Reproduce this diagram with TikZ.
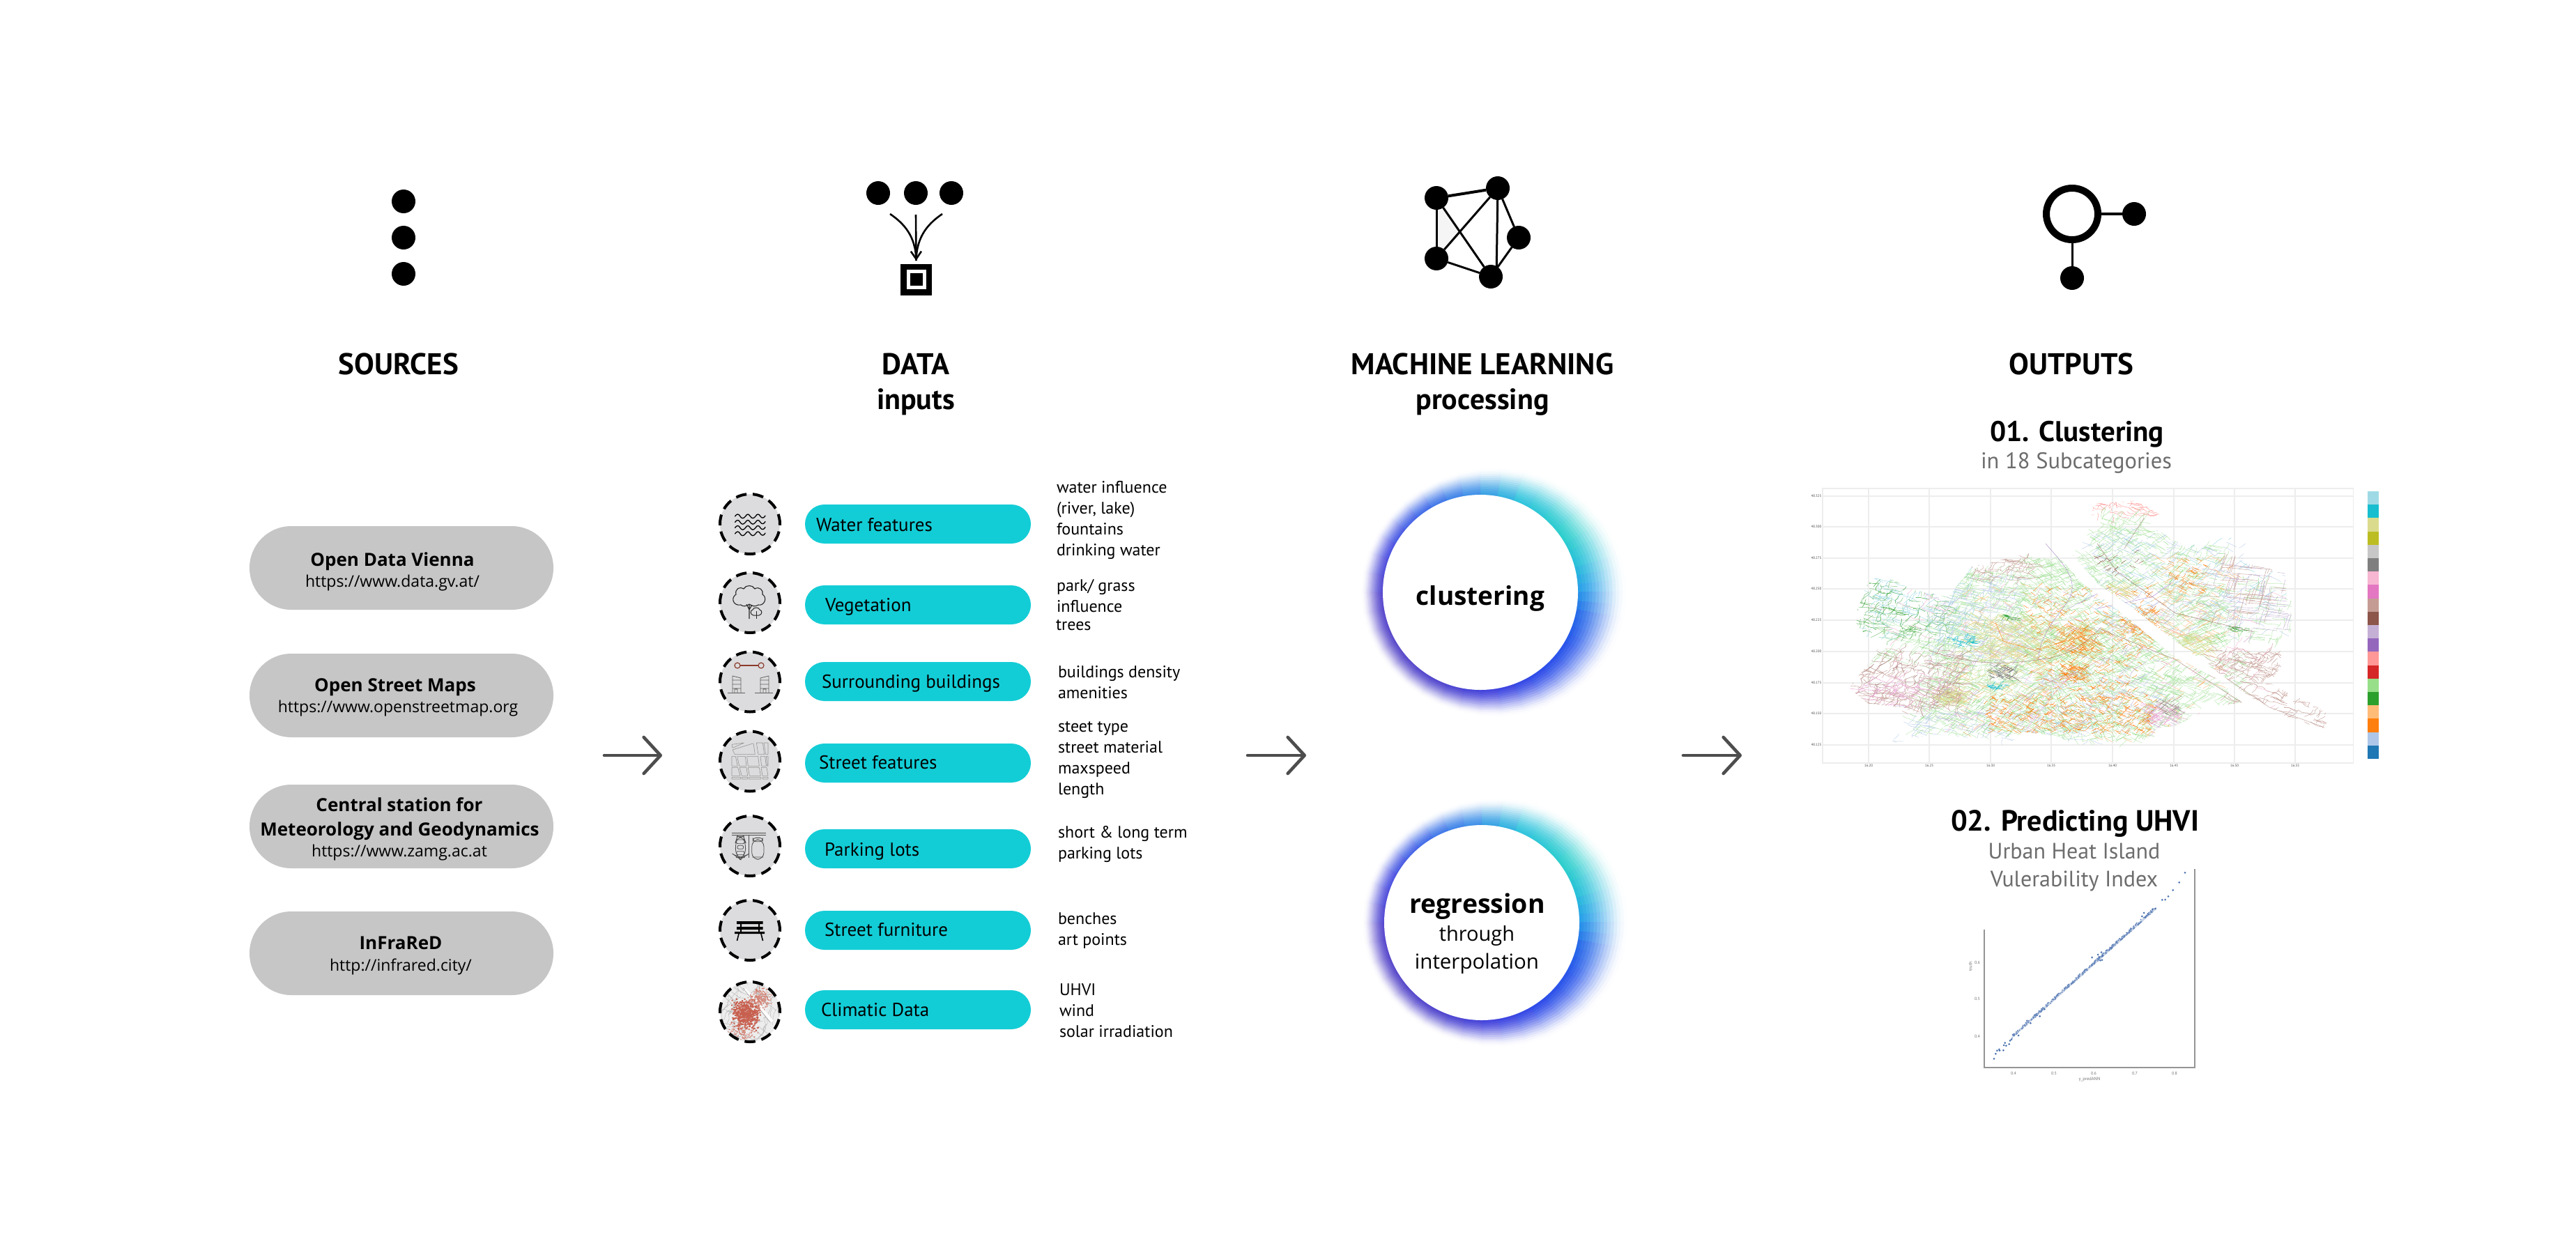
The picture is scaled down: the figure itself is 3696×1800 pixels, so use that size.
\documentclass[tikz,border=0pt]{standalone}
\usepackage{fontspec}
\setmainfont{PT Sans}
\newfontfamily\segoe{Open Sans}
\usetikzlibrary{arrows.meta}
\newcommand\fs[1]{\fontsize{#1}{#1}\selectfont}
\definecolor{graypill}{HTML}{C6C6C6}
\definecolor{teal}{HTML}{13CDD6}
\definecolor{iconbg}{HTML}{DCDCDE}
\definecolor{subgray}{HTML}{6D6D6D}
\definecolor{arrowgray}{HTML}{4D4D4D}
\definecolor{g0}{HTML}{259FE8}\definecolor{g1}{HTML}{24BFD8}\definecolor{g2}{HTML}{28CDCC}
\definecolor{g3}{HTML}{2CC3DC}\definecolor{g4}{HTML}{3D8FE8}\definecolor{g5}{HTML}{3F6AE8}
\definecolor{g6}{HTML}{4A4FE0}\definecolor{g7}{HTML}{5545CC}\definecolor{g8}{HTML}{5545C8}
\definecolor{g9}{HTML}{4D42CC}\definecolor{g10}{HTML}{3F3FDC}\definecolor{g11}{HTML}{2A48E8}
\definecolor{g12}{HTML}{2356EA}\definecolor{g13}{HTML}{2468E8}
\definecolor{t1}{HTML}{9EDAE5}\definecolor{t2}{HTML}{17BECF}\definecolor{t3}{HTML}{DBDB8D}\definecolor{t4}{HTML}{BCBD22}
\definecolor{t5}{HTML}{C7C7C7}\definecolor{t6}{HTML}{7F7F7F}\definecolor{t7}{HTML}{F7B6D2}\definecolor{t8}{HTML}{E377C2}
\definecolor{t9}{HTML}{C49C94}\definecolor{t10}{HTML}{8C564B}\definecolor{t11}{HTML}{C5B0D5}\definecolor{t12}{HTML}{9467BD}
\definecolor{t13}{HTML}{FF9896}\definecolor{t14}{HTML}{D62728}\definecolor{t15}{HTML}{98DF8A}\definecolor{t16}{HTML}{2CA02C}
\definecolor{t17}{HTML}{FFBB78}\definecolor{t18}{HTML}{FF7F0E}\definecolor{t19}{HTML}{AEC7E8}\definecolor{t20}{HTML}{1F77B4}
\definecolor{redmap}{HTML}{C8604F}
\definecolor{brick}{HTML}{8B3A2A}
\definecolor{scat}{HTML}{4C72B0}
\tikzset{
 lbl/.style={inner sep=0pt,outer sep=0pt,text=black},
 dot/.style={circle,fill=black,minimum size=34pt,inner sep=0pt,outer sep=0pt},
 graybox/.style={rectangle,fill=graypill,minimum width=436pt,minimum height=120pt,rounded corners=59.9pt,inner sep=0pt,outer sep=0pt},
 tealbox/.style={rectangle,fill=teal,minimum width=324pt,minimum height=56pt,rounded corners=27.9pt,inner sep=0pt,outer sep=0pt},
 iconcirc/.style={circle,minimum size=86pt,inner sep=0pt,outer sep=0pt,fill=iconbg,draw=black,line width=4pt,dash pattern=on 15.5pt off 9pt,dash phase=1.1pt},
 bigarrow/.style={draw=arrowgray,line width=4.6pt,line cap=round,line join=round,-{Straight Barb[length=24pt,width=52pt,round]}},
 netline/.style={line width=3pt,draw=black},
 whitedisc/.style={circle,fill=white,minimum size=280pt,inner sep=0pt,outer sep=0pt},
 mapline/.style={line width=.42pt,line join=round},
 gridl/.style={draw=black!7,line width=1.4pt},
 icongray/.style={draw=black!62,line width=.8pt,line join=round},
 streetblock/.style={draw=black!42,line width=.6pt,rounded corners=.5pt},
 spine/.style={draw=black!42,line width=1.4pt},
}
\newcommand\mylab[6]{\node[lbl,anchor=#2,font=#5] (#1) at (#3,#4) {#6};}
\newcommand\walks[9]{%
 \pgfmathtruncatemacro\nb{(#1)/3+1}%
 \foreach \i in {1,...,\nb}{%
  \pgfmathsetmacro\wa{#8+90*int(rnd*4)}%
  \draw[mapline,#2] foreach \j in {1,2,3} { ({#3+rnd*#5},{#4+rnd*#6}) -- ++({\wa+(rnd-.5)*#9}:#7) -- ++({\wa+(rnd-.5)*#9}:#7) -- ++({\wa+(rnd-.5)*#9}:#7) };
 }}
\newcommand\speckle[7]{% batches, colour, cx, cy, rx, ry, size
 \foreach \i in {1,...,#1}{%
  \fill[#2] foreach \j in {1,...,20} { ({#3+#5*(rnd+rnd-1)},{#4+#6*(rnd+rnd-1)}) rectangle ++(#7,#7) };
 }}
\newcommand\glowring[2]{%
 \begin{scope}[shift={(#1,#2)}]
 \foreach \q/\I in {1.0/1,.93/4,.86/9,.79/16,.72/25,.65/33,.58/43,.51/52,.44/61,.37/70,.3/78,.23/85,.16/91,.09/96,.04/98}{%
  \foreach \Aa/\Ab/\Ca/\Cb in {0/15/g0/g1,15/30/g1/g2,30/60/g2/g3,60/90/g3/g4,90/120/g4/g5,120/150/g5/g6,150/180/g6/g7,180/210/g7/g8,210/240/g8/g9,240/270/g9/g10,270/300/g10/g11,300/330/g11/g12,330/345/g12/g13,345/360/g13/g0}{%
   \foreach \s in {0,.3333,.6667}{%
    \pgfmathsetmacro\tA{\Aa+\s*(\Ab-\Aa)}%
    \pgfmathsetmacro\tB{\tA+.3333*(\Ab-\Aa)+.3}%
    \pgfmathsetmacro\rA{140+\q*1.15*(37.75+16.5*cos(\tA)+5.75*cos(2*\tA))}%
    \pgfmathsetmacro\rB{140+\q*1.15*(37.75+16.5*cos(\tB)+5.75*cos(2*\tB))}%
    \pgfmathsetmacro\tt{\s*100}%
    \colorlet{gc}{\Cb!\tt!\Ca}%
    \fill[gc!\I!white] (0,0) -- (-\tA:\rA) -- (-\tB:\rB) -- cycle;
   }}}
 \end{scope}}
\begin{document}
\begin{tikzpicture}[x=1pt,y=-1pt]
\useasboundingbox (0,0) rectangle (3696,1800);
\fill[white] (0,0) rectangle (3696,1800);
\pgfmathsetseed{4242}
% ---------- top icons
\node[dot] (s1) at (579,289) {};
\node[dot] (s2) at (579,341) {};
\node[dot] (s3) at (579,393) {};
\node[dot] (d1) at (1260,277) {};
\node[dot] (d2) at (1314,277) {};
\node[dot] (d3) at (1365,277) {};
\coordinate (dl) at (1277,307);
\coordinate (dm) at (1314,308);
\coordinate (dr) at (1352,307);
\node[rectangle,fill=black,minimum size=45pt,inner sep=0pt,outer sep=0pt] (sqo) at (1314.5,401) {};
\node[rectangle,fill=white,minimum size=28pt,inner sep=0pt,outer sep=0pt] (sqm) at (1314.5,401) {};
\node[rectangle,fill=black,minimum size=18pt,inner sep=0pt,outer sep=0pt] (sqi) at (1314.5,401) {};
\coordinate (dt) at (1314.5,374);
\draw[line width=2.6pt] (dl) .. controls (1296,320) and (1314,338) .. (dt);
\draw[line width=2.6pt] (dr) .. controls (1333,320) and (1315,338) .. (dt);
\draw[line width=2.6pt,-{Straight Barb[length=11pt,width=15pt]}] (dm) -- (dt);
% network
\fill[black!4] (2061,284) -- (2095.6,337) -- (2061,371) -- cycle;
\node[dot] (na) at (2061,284) {};
\node[dot] (nb) at (2149,270) {};
\node[dot] (nc) at (2179,341) {};
\node[dot] (nd) at (2061,371) {};
\node[dot] (ne) at (2139,397) {};
\draw[netline,line width=4pt] (na) -- (nb);
\draw[netline] (na) -- (nd);
\draw[netline] (na) -- (ne);
\draw[netline] (nb) -- (nd);
\draw[netline] (nb.center) -- (2147,397);
\draw[netline] (nb) -- (nc);
\draw[netline] (nc) -- (ne);
\draw[netline] (nd) -- (ne);
% outputs icon
\node[circle,draw=black,line width=10pt,minimum size=74pt,inner sep=0pt,outer sep=0pt] (oo) at (2973,307) {};
\node[dot] (o1) at (3062,307) {};
\node[dot] (o2) at (2973,399) {};
\draw[line width=4.5pt] (oo) -- (o1);
\draw[line width=3pt] (oo) -- (o2);
% ---------- headings
\mylab{h1}{base}{572}{537}{\fs{43}\bfseries}{SOURCES}
\mylab{h2}{base}{1314}{537}{\fs{43}\bfseries}{DATA}
\mylab{h2b}{base}{1314}{587}{\fs{42}\bfseries}{inputs}
\mylab{h3}{base}{2127}{537}{\fs{43}\bfseries}{MACHINE LEARNING}
\mylab{h3b}{base}{2127}{587}{\fs{42}\bfseries}{processing}
\mylab{h4}{base}{2972}{537}{\fs{43}\bfseries}{OUTPUTS}
\mylab{o1t}{base}{2980}{633}{\fs{41}\bfseries}{01. Clustering}
\node[lbl,text=subgray,anchor=base,font=\fs{32.5}] (o1s) at (2979,672) {in 18 Subcategories};
\mylab{o2t}{base}{2977}{1192}{\fs{42}\bfseries}{02. Predicting UHVI}
\node[lbl,text=subgray,anchor=base,font=\fs{32}] (o2s) at (2976,1232) {Urban Heat Island};
\node[lbl,text=subgray,anchor=base,font=\fs{32}] (o2v) at (2976,1272) {Vulerability Index};
% ---------- sources
\node[graybox] (b1) at (576,815) {};
\node[graybox] (b2) at (576,998) {};
\node[graybox] (b3) at (576,1186) {};
\node[graybox] (b4) at (576,1368) {};
\mylab{b1a}{base}{563}{812}{\segoe\fs{26}\bfseries}{Open Data Vienna}
\mylab{b1b}{base}{563}{842}{\segoe\fs{23}}{https://www.data.gv.at/}
\mylab{b2a}{base}{567}{992}{\segoe\fs{26}\bfseries}{Open Street Maps}
\mylab{b2b}{base}{571}{1022}{\segoe\fs{23}}{https://www.openstreetmap.org}
\mylab{b3a}{base}{573}{1164}{\segoe\fs{26}\bfseries}{Central station for}
\mylab{b3c}{base}{573.5}{1199}{\segoe\fs{26}\bfseries}{Meteorology and Geodynamics}
\mylab{b3b}{base}{573}{1229}{\segoe\fs{23}}{https://www.zamg.ac.at}
\mylab{b4a}{base}{575}{1362}{\segoe\fs{26}\bfseries}{InFraReD}
\mylab{b4b}{base}{575}{1393}{\segoe\fs{23}}{http://infrared.city/}
% ---------- big arrows
\coordinate (a1s) at (867,1084); \coordinate (a1e) at (950,1084);
\coordinate (a2s) at (1790,1084); \coordinate (a2e) at (1874,1084);
\coordinate (a3s) at (2415,1084); \coordinate (a3e) at (2499,1084);
\draw[bigarrow] (a1s) -- (a1e);
\draw[bigarrow] (a2s) -- (a2e);
\draw[bigarrow] (a3s) -- (a3e);
% ---------- data pills
\foreach \n/\yy in {1/752,2/868,3/978,4/1095,5/1218,6/1335,7/1449}{\node[tealbox] (p\n) at (1317,\yy) {};}
\mylab{p1t}{base west}{1171}{762}{\fs{27}}{Water features}
\mylab{p2t}{base west}{1184}{877}{\fs{27}}{Vegetation}
\mylab{p3t}{base west}{1179}{987}{\fs{27}}{Surrounding buildings}
\mylab{p4t}{base west}{1175}{1103}{\fs{27}}{Street features}
\mylab{p5t}{base west}{1183}{1228}{\fs{27}}{Parking lots}
\mylab{p6t}{base west}{1183}{1343}{\fs{27}}{Street furniture}
\mylab{p7t}{base west}{1178}{1458}{\fs{27}}{Climatic Data}
% details
\mylab{q1}{base west}{1516}{707}{\fs{24}}{water influence}
\mylab{q2}{base west}{1516}{737}{\fs{24}}{(river, lake)}
\mylab{q3}{base west}{1516}{767}{\fs{24}}{fountains}
\mylab{q4}{base west}{1516}{797}{\fs{24}}{drinking water}
\mylab{q5}{base west}{1516}{848}{\fs{24}}{park/ grass}
\mylab{q6}{base west}{1516}{878}{\fs{24}}{influence}
\mylab{q7}{base west}{1515}{904}{\fs{24}}{trees}
\mylab{q8}{base west}{1518}{972}{\fs{24}}{buildings density}
\mylab{q9}{base west}{1518}{1002}{\fs{24}}{amenities}
\mylab{q10}{base west}{1518}{1050}{\fs{24}}{steet type}
\mylab{q11}{base west}{1518}{1080}{\fs{24}}{street material}
\mylab{q12}{base west}{1518}{1110}{\fs{24}}{maxspeed}
\mylab{q13}{base west}{1518}{1140}{\fs{24}}{length}
\mylab{q14}{base west}{1518}{1202}{\fs{24}}{short \& long term}
\mylab{q15}{base west}{1518}{1232}{\fs{24}}{parking lots}
\mylab{q16}{base west}{1518}{1326}{\fs{24}}{benches}
\mylab{q17}{base west}{1518}{1356}{\fs{24}}{art points}
\mylab{q18}{base west}{1520}{1428}{\fs{24}}{UHVI}
\mylab{q19}{base west}{1520}{1458}{\fs{24}}{wind}
\mylab{q20}{base west}{1520}{1488}{\fs{24}}{solar irradiation}
% ---------- icon circles
\node[iconcirc] (c1) at (1076,752) {};
\node[iconcirc] (c2) at (1076,865) {};
\node[iconcirc] (c3) at (1076,978.5) {};
\node[iconcirc] (c4) at (1076,1092.5) {};
\node[iconcirc] (c5) at (1076,1214) {};
\node[iconcirc] (c6) at (1076,1335) {};
% waves
\foreach \wy in {741,749.5,757.5,766}{
 \draw[line width=1.3pt,line cap=round] (1054.5,\wy) .. controls (1057,\wy-4) and (1060,\wy-4) .. (1062,\wy) .. controls (1064,\wy+3.5) and (1067,\wy+3.5) .. (1069.5,\wy) .. controls (1072,\wy-4) and (1074,\wy-4) .. (1076.5,\wy) .. controls (1079,\wy+3.5) and (1081,\wy+3.5) .. (1084,\wy) .. controls (1086,\wy-4) and (1089,\wy-4) .. (1091,\wy) .. controls (1093,\wy+3) and (1096,\wy+3) .. (1098,\wy-1);
}
% trees
\draw[line width=1.1pt,black!85,line join=round] (1063,868) .. controls (1052,870) and (1048,858) .. (1056,853) .. controls (1054,845) and (1062,841) .. (1067,845) .. controls (1070,839) and (1080,839) .. (1083,845) .. controls (1089,841) and (1096,847) .. (1094,853) .. controls (1102,858) and (1096,870) .. (1088,868) .. controls (1084,871) and (1079,870) .. (1075,867) .. controls (1071,870) and (1066,871) .. (1063,868);
\draw[line width=1.1pt,black!85] (1075,867) -- (1075,888) (1071,867) -- (1075,875) (1079,868) -- (1075,875);
\draw[line width=1pt,black!85,fill=iconbg] (1081,883) .. controls (1076,882) and (1076,876) .. (1080,875) .. controls (1081,871) and (1089,871) .. (1090,875) .. controls (1094,876) and (1094,882) .. (1089,883) -- cycle;
\draw[line width=1pt,black!85] (1085,877) -- (1085,888);
% buildings
\draw[brick,line width=1.2pt] (1062,955) -- (1088,955);
\draw[brick,line width=1.2pt] (1058,955) circle (4) (1092,955) circle (4);
\draw[icongray] (1044,994) -- (1069,994) (1083,994) -- (1109,994);
\draw[icongray] (1051,994) -- (1051,970) -- (1063,973) -- (1063,994) (1051,976) -- (1063,976) (1051,982) -- (1063,982) (1051,988) -- (1063,988) (1054,994) -- (1054,989) -- (1058,989) -- (1058,994);
\draw[icongray] (1103,994) -- (1103,970) -- (1091,973) -- (1091,994) (1091,976) -- (1103,976) (1091,982) -- (1103,982) (1091,988) -- (1103,988) (1095,994) -- (1095,989) -- (1099,989) -- (1099,994);
% street grid
\begin{scope}[shift={(1026,1040)},x=.3333pt,y=-.3333pt]
\draw[streetblock] (72,85)--(125,78)--(75,100)--cycle;
\draw[streetblock] (75,108)--(165,80)--(172,128)--(85,128)--cycle;
\draw[streetblock] (178,78)--(205,78)--(212,128)--(186,128)--cycle;
\draw[streetblock] (210,78)--(228,78)--(228,128)--(218,128)--cycle;
\draw[streetblock] (72,136)--(88,136)--(97,178)--(72,178)--cycle;
\draw[streetblock] (95,136)--(130,136)--(135,178)--(104,178)--cycle;
\draw[streetblock] (137,136)--(185,136)--(190,178)--(142,178)--cycle;
\draw[streetblock] (195,136)--(215,136)--(220,178)--(200,178)--cycle;
\draw[streetblock] (220,136)--(228,136)--(228,178)--(224,178)--cycle;
\draw[streetblock] (72,184)--(98,184)--(108,220)--(72,220)--cycle;
\draw[streetblock] (105,184)--(135,184)--(140,220)--(115,220)--cycle;
\draw[streetblock] (142,184)--(190,184)--(196,220)--(148,220)--cycle;
\draw[streetblock] (198,184)--(222,184)--(228,220)--(204,220)--cycle;
\draw[streetblock] (72,226)--(110,226)--(110,234)--(72,234)--cycle;
\draw[streetblock] (115,226)--(140,226)--(140,234)--(115,234)--cycle;
\draw[streetblock] (145,226)--(198,226)--(198,234)--(145,234)--cycle;
\draw[streetblock] (205,226)--(228,226)--(228,234)--(205,234)--cycle;
\end{scope}
% parking
\begin{scope}[shift={(1026,1165)},x=.3333pt,y=-.3333pt]
\draw[draw=black!70,line width=.8pt] (72,90) -- (218,90) (72,100) -- (218,100) (146,100) -- (146,197);
\draw[draw=black!70,line width=.8pt,rounded corners=10pt] (88,190) -- (88,130) -- (96,106) -- (122,106) -- (131,130) -- (131,190) -- (120,197) -- (98,197) -- cycle;
\draw[draw=black!70,line width=.8pt,rounded corners=2pt] (96,145) rectangle (122,160) (92,170) rectangle (126,185) (92,120) rectangle (126,137);
\draw[draw=black!70,line width=.8pt,rounded corners=10pt] (158,120) -- (210,120) -- (210,205) -- (158,205) -- cycle;
\draw[draw=black!70,line width=.8pt,rounded corners=4pt] (163,112) rectangle (205,128) (160,195) -- (208,195);
\end{scope}
% bench
\fill[black] (1057,1322) rectangle (1094.5,1326) (1057,1330) rectangle (1094.5,1334) (1054,1337) rectangle (1097,1340);
\fill[black] (1062,1322) rectangle (1064,1338) (1088,1322) rectangle (1090,1338);
\draw[line width=1.6pt] (1060,1340) -- (1057.5,1350) (1092,1340) -- (1094.5,1350);
% climatic map
\begin{scope}
\clip (1076,1452) circle (43);
\fill[black!7] (1020,1400) rectangle (1130,1500);
\walks{90}{black!30,line width=.4pt}{1030}{1408}{90}{88}{8}{20}{70}
\draw[white,line width=4pt] (1069,1420) -- (1108,1466);
\draw[black!45,line width=.5pt] (1066,1418) -- (1105,1467);
\speckle{26}{redmap}{1069}{1455}{23}{24}{2}
\speckle{11}{redmap!80!white}{1090}{1432}{18}{18}{1.4}
\speckle{6}{redmap!80!white}{1065}{1480}{26}{15}{1.4}
\end{scope}
\node[iconcirc,fill=none] (c7) at (1076,1452) {};
% ---------- glow circles
\glowring{2124}{850}
\glowring{2126}{1324}
\node[whitedisc] (m1) at (2124,850) {};
\node[whitedisc] (m2) at (2126,1324) {};
\mylab{m1t}{base}{2124}{868}{\segoe\fs{37}\bfseries}{clustering}
\mylab{m2a}{base}{2119.5}{1310}{\segoe\fs{37.5}\bfseries}{regression}
\mylab{m2b}{base}{2119}{1350}{\segoe\fs{29}}{through}
\mylab{m2c}{base}{2119}{1390}{\segoe\fs{29.5}}{interpolation}
% ---------- map plot
\draw[gridl] (2615,701) rectangle (3376.5,1095);
\foreach \gy in {712,756,801,845,890,935,980,1024,1069}{\draw[gridl] (2615,\gy) -- (3376.5,\gy);}
\foreach \gx in {2681,2768,2856,2943,3031,3119,3206,3293}{\draw[gridl] (\gx,701) -- (\gx,1095);}
\foreach \gy/\tl in {712/48.325,756/48.300,801/48.275,845/48.250,890/48.225,935/48.200,980/48.175,1024/48.150,1069/48.125}{
 \node[lbl,text=black!70,font=\fs{5}] (ly\gy) at (2606,\gy) {\tl};}
\foreach \gx/\tl in {2681/16.20,2768/16.25,2856/16.30,2943/16.35,3031/16.40,3119/16.45,3206/16.50,3293/16.55}{
 \node[lbl,text=black!70,font=\fs{5}] (lx\gx) at (\gx,1098.5) {\tl};}
\begin{scope}[shift={(2560,680)},x=.5612pt,y=-.3333pt]
\clip (725,325) -- (775,260) -- (785,190) -- (790,130) -- (900,115) -- (960,175) -- (925,230) -- (965,250) -- (1030,320) -- (1095,265) -- (1160,280) -- (1180,300) -- (1170,380) -- (1215,400) -- (1280,425) -- (1285,540) -- (1300,550) -- (1295,690) -- (1270,760) -- (1270,830) -- (1240,900) -- (1290,945) -- (1350,990) -- (1395,1040) -- (1380,1095) -- (1300,1060) -- (1240,1005) -- (1180,950) -- (1130,880) -- (1000,720) -- (900,590) -- (800,470) -- cycle
 (668,290) -- (760,470) -- (815,535) -- (1000,790) -- (1115,890) -- (1170,985) -- (1100,1000) -- (1040,1050) -- (1000,1085) -- (950,1095) -- (940,1190) -- (880,1190) -- (840,1170) -- (740,1165) -- (700,1130) -- (610,1110) -- (560,1185) -- (520,1140) -- (470,1135) -- (380,1120) -- (270,1165) -- (300,1100) -- (255,1050) -- (320,1010) -- (215,990) -- (165,920) -- (240,770) -- (205,690) -- (178,630) -- (210,480) -- (245,430) -- (330,500) -- (420,530) -- (480,400) -- (620,345) -- (650,320) -- cycle;
\foreach \ax/\ay/\aw/\ah/\ab/\cnt/\cntb in {420/420/190/280/20/220/60,600/360/190/290/60/240/60,380/700/220/200/10/200/60,600/650/200/200/45/250/80,800/600/190/240/50/220/60,330/900/320/220/35/280/80,650/850/200/300/70/300/90,850/850/170/300/30/220/60,780/240/190/250/50/150/40,980/300/150/250/20/120/30,1000/550/130/200/55/130/40,1150/450/150/280/10/60/20,1000/780/180/220/40/90/20,240/640/180/160/30/70/10}{
 \walks{\cnt}{t15!72!white}{\ax}{\ay}{\aw}{\ah}{13}{\ab}{35}
 \walks{\cntb}{t15!90!t16}{\ax}{\ay}{\aw}{\ah}{7}{\ab}{35}
}
\walks{220}{t19!85!white}{380}{440}{220}{350}{11}{20}{60}
\walks{220}{t19!85!white}{780}{250}{500}{450}{11}{40}{25}
\walks{150}{t19!85!white}{260}{1000}{540}{160}{12}{20}{50}
\walks{100}{t19!85!white}{620}{850}{350}{250}{11}{40}{30}
\walks{200}{t3}{480}{620}{180}{170}{11}{50}{6}
\walks{110}{t3}{390}{930}{70}{60}{9}{40}{6}
\walks{110}{t3}{680}{650}{110}{160}{10}{50}{6}
\walks{70}{t3}{1010}{690}{90}{80}{10}{50}{6}
\walks{50}{t3}{830}{470}{60}{70}{9}{50}{6}
\walks{110}{t3}{420}{750}{250}{200}{10}{50}{10}
\walks{380}{t18}{620}{480}{320}{640}{6}{40}{50}
\walks{280}{t18}{520}{950}{420}{160}{6}{40}{50}
\walks{90}{t18}{880}{580}{70}{110}{6}{40}{40}
\walks{90}{t18}{700}{660}{100}{110}{7}{40}{50}
\walks{70}{t18}{710}{830}{60}{60}{6}{40}{50}
\walks{50}{t18}{980}{370}{100}{150}{6}{40}{40}
\walks{240}{t17}{430}{480}{700}{660}{10}{40}{25}
\walks{100}{t17}{950}{350}{200}{350}{9}{40}{25}
\walks{190}{t9}{170}{770}{280}{240}{16}{20}{80}
\walks{50}{t10!70!white}{170}{770}{280}{240}{16}{20}{80}
\walks{45}{t9}{1100}{390}{180}{250}{24}{10}{10}
\walks{110}{t9}{1130}{940}{260}{150}{13}{30}{60}
\walks{110}{t9}{1100}{760}{170}{150}{13}{30}{80}
\walks{60}{t9}{470}{360}{170}{100}{13}{20}{70}
\walks{90}{t16!70!white}{180}{470}{240}{230}{15}{20}{70}
\walks{40}{t16}{200}{470}{140}{210}{12}{20}{60}
\walks{50}{t11}{1100}{380}{200}{320}{20}{10}{12}
\walks{110}{t11}{400}{500}{600}{600}{15}{30}{40}
\walks{110}{t1}{210}{430}{270}{290}{15}{20}{60}
\walks{80}{t1}{780}{220}{500}{400}{13}{40}{30}
\walks{30}{t2}{430}{700}{60}{40}{6}{20}{60}
\walks{20}{t2}{530}{900}{30}{30}{6}{20}{60}
\walks{110}{t7}{250}{500}{1000}{600}{15}{30}{40}
\walks{50}{t8!70!white}{930}{1000}{80}{80}{10}{40}{20}
\walks{40}{t8!70!white}{200}{880}{200}{120}{17}{30}{50}
\walks{50}{t13}{790}{115}{170}{70}{11}{20}{80}
\walks{40}{t15!80!white}{790}{180}{130}{90}{15}{20}{50}
\walks{60}{t6}{530}{830}{60}{50}{6}{40}{8}
\walks{30}{t6!70!t9}{940}{960}{70}{70}{7}{40}{8}
\walks{20}{t10}{780}{340}{130}{90}{6}{40}{40}
\walks{14}{t16}{1140}{660}{40}{20}{5}{20}{30}
\walks{12}{t16}{555}{605}{40}{20}{5}{20}{30}
\draw[mapline,t12!80!white] (668,300) .. controls (720,400) and (760,470) .. (720,560) .. controls (700,610) and (650,700) .. (650,800);
\draw[mapline,t12!80!white] (750,560) -- (830,490);
\draw[mapline,t12!80!white] (800,580) -- (940,530) -- (990,470);
\draw[mapline,t10!80!white] (370,760) .. controls (450,810) and (540,830) .. (650,800) .. controls (700,790) and (750,770) .. (810,660);
\draw[mapline,t9] (540,1090) .. controls (590,960) and (680,880) .. (740,860) -- (820,790);
\draw[mapline,t8!70!white] (620,1100) .. controls (660,1000) and (720,880) .. (740,860);
\draw[mapline,t10!60!white] (1130,880) -- (1240,1005) -- (1375,1088);
\draw[mapline,t10!70!white] (810,670) -- (1000,800) -- (1170,985);
\draw[mapline,t18] (540,640) -- (560,720) -- (640,760) -- (760,700) -- (830,680);
\draw[mapline,t10!80!white] (800,300) -- (850,420) -- (1000,600) -- (1100,640) -- (1200,680);
\draw[mapline,t10!70!white] (920,190) -- (870,320);
\end{scope}
% colour bar
\foreach \i in {1,...,20}{
 \pgfmathsetmacro\ya{705+(\i-1)*19.2}\pgfmathsetmacro\yb{\ya+19.2+.3}
 \fill[t\i] (3397,\ya) rectangle (3413,\yb);}
% ---------- scatter plot
\draw[spine] (2847,1334) -- (2847,1532) -- (3149,1532) -- (3149,1247);
\begin{scope}[shift={(2760,1150)},x=.3333pt,y=-.3333pt]
\draw[scat!30!white,line width=3pt,line cap=round] (385,1010) -- (1000,460);
\foreach \i in {1,...,330}{
 \pgfmathsetmacro\tp{rnd}
 \pgfmathsetmacro\px{380+\tp*610}
 \pgfmathsetmacro\py{1013-\tp*(1013-465)+(rnd-.5)*14}
 \fill[scat!85!white] (\px,\py) circle (3.1);}
\foreach \px/\py in {303/1108,310/1087,316/1073,325/1068,327/1073,343/1072,345/1050,350/1040,355/1052,368/1045,372/1030,378/1025,408/1008,725/672,948/480,965/485,955/498,985/465,997/462,760/685,768/683,750/660,770/665,755/670,765/650,1027/424,1040/423,1053/409,1073/382,1100/349,1125/307,460/955,445/945,500/925,520/895,810/630,940/495}{
 \fill[scat] (\px,\py) circle (4.5);}
\end{scope}
\foreach \xx/\tl in {2889/0.4,2947/0.5,3004/0.6,3063/0.7,3120/0.8}{\node[lbl,text=black!55,font=\fs{6}] (sx\xx) at (\xx,1540) {\tl};}
\foreach \yy/\tl in {1381/0.6,1433/0.5,1487/0.4}{\node[lbl,text=black!55,font=\fs{6}] (sy\yy) at (2837,\yy) {\tl};}
\node[lbl,text=black!55,font=\fs{6.5}] (sxl) at (2998,1549) {y\_predANN};
\node[lbl,text=black!55,font=\fs{6.5},rotate=90] (syl) at (2827,1387) {truth};
\end{tikzpicture}
\end{document}
